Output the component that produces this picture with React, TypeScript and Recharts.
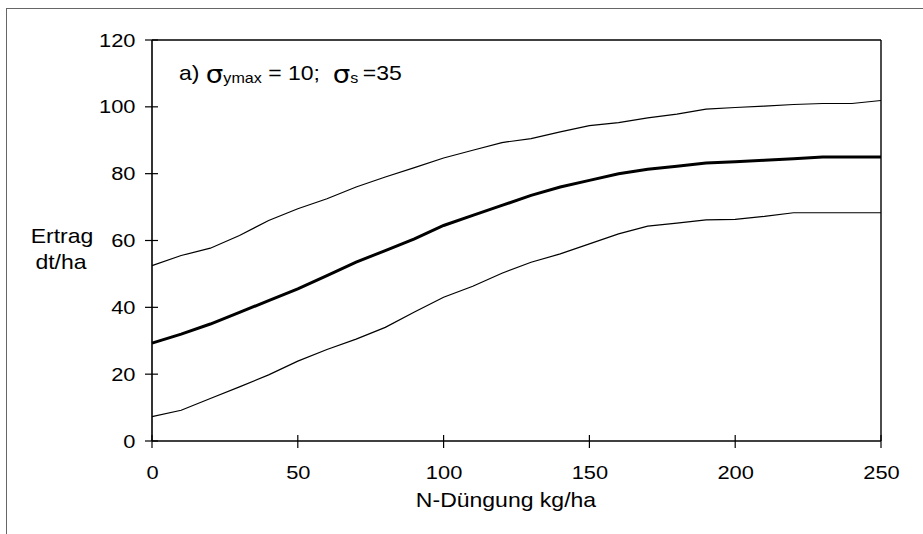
import { LineChart, Line, XAxis, YAxis, ReferenceLine } from "recharts";

const N_RATES = [0, 10, 20, 30, 40, 50, 60, 70, 80, 90, 100, 110, 120, 130, 140, 150, 160, 170, 180, 190, 200, 210, 220, 230, 240, 250];
const YIELD_UPPER = [52.5, 55.5, 57.7, 61.5, 66, 69.5, 72.5, 76, 79, 81.8, 84.7, 87, 89.3, 90.5, 92.5, 94.4, 95.3, 96.7, 97.8, 99.3, 99.8, 100.2, 100.7, 101, 101, 101.9];
const YIELD_MEAN = [29.3, 32, 35, 38.5, 42, 45.5, 49.5, 53.5, 57, 60.5, 64.5, 67.5, 70.5, 73.5, 76, 78, 80, 81.3, 82.2, 83.2, 83.6, 84, 84.5, 85, 85, 85];
const YIELD_LOWER = [7.3, 9.2, 12.7, 16.2, 19.8, 23.9, 27.4, 30.5, 34, 38.6, 43, 46.3, 50.2, 53.5, 56, 59, 62, 64.3, 65.2, 66.2, 66.3, 67.2, 68.3, 68.3, 68.3, 68.3];
const X_TICKS = [0, 50, 100, 150, 200, 250];
const Y_TICKS = [0, 20, 40, 60, 80, 100, 120];

const W = 923;
const H = 534;
const PLOT_LEFT = 152;
const PLOT_TOP = 40;
const PLOT_RIGHT = 881;
const PLOT_BOTTOM = 441;
const FONT = '"Liberation Sans", Arial, sans-serif';
// the original text is a bit stretched horizontally
const SX = 1.15;

const data = N_RATES.map((n, i) => ({
  n,
  upper: YIELD_UPPER[i],
  mean: YIELD_MEAN[i],
  lower: YIELD_LOWER[i],
}));

function YTick(props: any) {
  const { y, payload } = props;
  return (
    <g>
      <line x1={PLOT_LEFT - 7} x2={PLOT_LEFT + 6} y1={y} y2={y} stroke="#000" strokeWidth={1.2} />
      <text
        transform={`translate(${PLOT_LEFT - 16.5},${y}) scale(${SX},1)`}
        dy="0.35em"
        textAnchor="end"
        fontSize={19}
        fontFamily={FONT}
        fill="#000"
      >
        {payload.value}
      </text>
    </g>
  );
}

function XTick(props: any) {
  const { x, payload } = props;
  return (
    <g>
      <line x1={x} x2={x} y1={PLOT_BOTTOM - 6} y2={PLOT_BOTTOM + 7} stroke="#000" strokeWidth={1.2} />
      <text
        transform={`translate(${x + 0.5},479) scale(${SX},1)`}
        textAnchor="middle"
        fontSize={19}
        fontFamily={FONT}
        fill="#000"
      >
        {payload.value}
      </text>
    </g>
  );
}

export default function App() {
  return (
    <div
      style={{
        position: "absolute",
        left: 0,
        top: 0,
        width: W,
        height: H,
        background: "#fff",
        overflow: "hidden",
        fontFamily: FONT,
      }}
    >
      {/* outer frame */}
      <div
        style={{
          position: "absolute",
          left: 6,
          top: 8,
          width: W,
          height: H,
          borderLeft: "1px solid #666",
          borderTop: "1px solid #666",
        }}
      />

      <LineChart
        width={W}
        height={H}
        data={data}
        margin={{ top: PLOT_TOP, right: W - PLOT_RIGHT, bottom: H - PLOT_BOTTOM - 30, left: PLOT_LEFT - 60 }}
        style={{ position: "absolute", left: 0, top: 0 }}
      >
        <XAxis
          dataKey="n"
          type="number"
          domain={[0, 250]}
          ticks={X_TICKS}
          height={30}
          tickLine={false}
          axisLine={{ stroke: "#000", strokeWidth: 1.6 }}
          tick={<XTick />}
          interval={0}
        />
        <YAxis
          type="number"
          domain={[0, 120]}
          ticks={Y_TICKS}
          width={60}
          tickLine={false}
          axisLine={{ stroke: "#000", strokeWidth: 1.6 }}
          tick={<YTick />}
          interval={0}
        />
        <ReferenceLine y={120} stroke="#000" strokeWidth={1.4} />
        <ReferenceLine x={250} stroke="#000" strokeWidth={1.4} />
        <Line dataKey="upper" type="linear" stroke="#000" strokeWidth={1.2} dot={false} isAnimationActive={false} />
        <Line dataKey="mean" type="linear" stroke="#000" strokeWidth={3} dot={false} isAnimationActive={false} />
        <Line dataKey="lower" type="linear" stroke="#000" strokeWidth={1.2} dot={false} isAnimationActive={false} />
      </LineChart>

      {/* titles and annotation */}
      <svg
        width={W}
        height={H}
        style={{ position: "absolute", left: 0, top: 0, pointerEvents: "none" }}
        fontFamily={FONT}
        fill="#000"
      >
        <text transform={`translate(62,243) scale(${SX},1)`} textAnchor="middle" fontSize={20}>
          Ertrag
        </text>
        <text transform={`translate(61,269) scale(${SX},1)`} textAnchor="middle" fontSize={20}>
          dt/ha
        </text>
        <text transform={`translate(506,507) scale(${SX},1)`} textAnchor="middle" fontSize={20}>
          N-Düngung kg/ha
        </text>
        <text transform={`translate(179,80) scale(${SX},1)`} fontSize={20} style={{ whiteSpace: "pre" }}>
          <tspan>a) </tspan>
          <tspan fontSize={24} fontFamily='"DejaVu Sans", sans-serif' dy={3}>σ</tspan>
          <tspan fontSize={14}>ymax</tspan>
          <tspan dy={-3}> = 10;  </tspan>
          <tspan fontSize={24} fontFamily='"DejaVu Sans", sans-serif' dy={3}>σ</tspan>
          <tspan fontSize={14}>s </tspan>
          <tspan dy={-3}>=35</tspan>
        </text>
      </svg>
    </div>
  );
}
